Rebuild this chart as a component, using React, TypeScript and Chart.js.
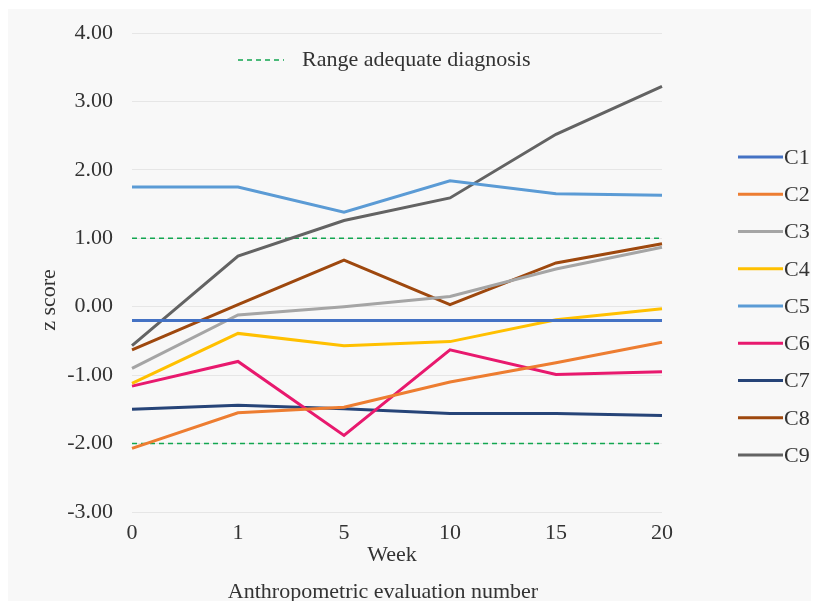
import React, { useEffect, useRef } from "react";
import { Chart, registerables } from "chart.js";

Chart.register(...registerables);

const weeks = ["0", "1", "5", "10", "15", "20"];
const seriesNames = ["C1", "C2", "C3", "C4", "C5", "C6", "C7", "C8", "C9"];
const c1 = [-0.2, -0.2, -0.2, -0.2, -0.2, -0.2];
const c2 = [-2.07, -1.55, -1.47, -1.1, -0.82, -0.52];
const c3 = [-0.9, -0.12, 0.0, 0.15, 0.55, 0.87];
const c4 = [-1.12, -0.39, -0.57, -0.51, -0.19, -0.03];
const c5 = [1.75, 1.75, 1.38, 1.84, 1.65, 1.63];
const c6 = [-1.16, -0.8, -1.88, -0.63, -0.99, -0.95];
const c7 = [-1.5, -1.44, -1.49, -1.56, -1.56, -1.59];
const c8 = [-0.63, 0.03, 0.68, 0.03, 0.64, 0.92];
const c9 = [-0.57, 0.74, 1.26, 1.59, 2.52, 3.22];
const rangeUpper = [1, 1, 1, 1, 1, 1];
const rangeLower = [-2, -2, -2, -2, -2, -2];
const rangeLabel = "Range adequate diagnosis";
const yTitle = "z score";
const xTitle = "Week";
const xSubTitle = "Anthropometric evaluation number";
const yMin = -3;
const yMax = 4;

const seriesValues = [c1, c2, c3, c4, c5, c6, c7, c8, c9];
const colors = ["#4472C4", "#ED7D31", "#A5A5A5", "#FFC000", "#5B9BD5", "#E8196E", "#264478", "#9E480E", "#636363"];
const FONT = "'Liberation Serif', 'Times New Roman', serif";
const TEXT = "#333333";
const GREEN = "#12A650";

const overlayPlugin = {
  id: "overlay",
  afterDraw(chart: any) {
    const ctx = chart.ctx;
    ctx.save();
    ctx.font = `22px ${FONT}`;
    ctx.fillStyle = TEXT;
    ctx.textBaseline = "middle";
    // top legend for range lines
    ctx.strokeStyle = GREEN;
    ctx.lineWidth = 1.5;
    ctx.setLineDash([5, 4]);
    ctx.beginPath();
    ctx.moveTo(230, 51);
    ctx.lineTo(276, 51);
    ctx.stroke();
    ctx.setLineDash([]);
    ctx.textAlign = "left";
    ctx.fillText(rangeLabel, 294, 51);
    // right legend
    chart.data.datasets.forEach((ds: any, i: number) => {
      if (ds.isRange) return;
      const y = 148 + i * 37.25;
      ctx.strokeStyle = ds.borderColor;
      ctx.lineWidth = 3;
      ctx.beginPath();
      ctx.moveTo(730, y);
      ctx.lineTo(775, y);
      ctx.stroke();
      ctx.fillText(ds.label, 776, y + 1);
    });
    // axis titles
    ctx.textAlign = "center";
    ctx.fillText(xTitle, 384, 546);
    ctx.fillText(xSubTitle, 375, 583);
    ctx.translate(41, 291);
    ctx.rotate(-Math.PI / 2);
    ctx.fillText(yTitle, 0, 0);
    ctx.restore();
  },
};

export default function App() {
  const ref = useRef<HTMLCanvasElement | null>(null);
  useEffect(() => {
    document.body.style.overflow = "hidden";
    const datasets: any[] = seriesValues.map((vals, i) => ({
      label: seriesNames[i],
      data: vals,
      borderColor: colors[i],
      backgroundColor: colors[i],
      borderWidth: 3,
      pointRadius: 0,
      tension: 0,
      fill: false,
      order: 1,
    }));
    datasets.push({
      label: rangeLabel,
      data: rangeUpper,
      borderColor: GREEN,
      borderWidth: 1.5,
      borderDash: [5, 4],
      pointRadius: 0,
      fill: false,
      order: 10,
      isRange: true,
    });
    datasets.push({
      label: rangeLabel,
      data: rangeLower,
      borderColor: GREEN,
      borderWidth: 1.5,
      borderDash: [5, 4],
      pointRadius: 0,
      fill: false,
      order: 10,
      isRange: true,
    });
    const chart = new Chart(ref.current as HTMLCanvasElement, {
      type: "line",
      data: { labels: weeks, datasets },
      options: {
        responsive: false,
        animation: false,
        layout: { padding: { top: 24, right: 157, left: 0, bottom: 0 } },
        plugins: { legend: { display: false }, tooltip: { enabled: false } },
        scales: {
          x: {
            type: "category",
            offset: false,
            grid: { display: false, drawTicks: false },
            border: { display: false },
            ticks: { color: TEXT, font: { family: FONT, size: 22 }, padding: 8, maxRotation: 0 },
            afterFit(scale: any) {
              scale.height = 89;
              scale.paddingLeft = 0;
              scale.paddingRight = 0;
            },
          },
          y: {
            min: yMin,
            max: yMax,
            grid: { color: "#e6e6e6", lineWidth: 1, drawTicks: false },
            border: { display: false },
            ticks: {
              stepSize: 1,
              color: TEXT,
              padding: 19,
              font: { family: FONT, size: 22 },
              callback: (v: any) => Number(v).toFixed(2),
            },
            afterFit(scale: any) {
              scale.width = 124;
              scale.paddingTop = 0;
              scale.paddingBottom = 0;
            },
          },
        },
      },
      plugins: [overlayPlugin],
    } as any);
    return () => chart.destroy();
  }, []);
  return (
    <div style={{ paddingTop: 1 }}>
      <canvas ref={ref} width={811} height={592} style={{ display: "block", background: "#f8f8f8" }} />
    </div>
  );
}
